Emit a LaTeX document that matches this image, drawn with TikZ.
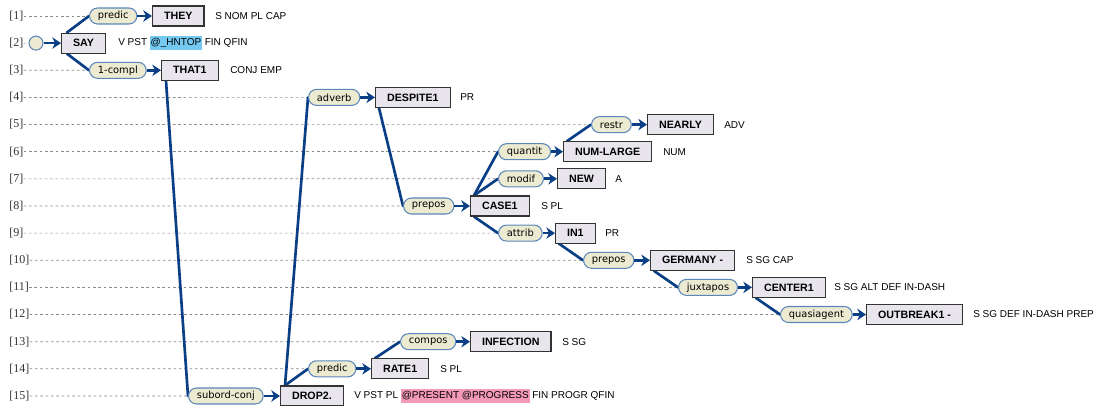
\documentclass[tikz,border=0pt]{standalone}
\usepackage{fontspec}
\setmainfont{Liberation Sans}
\newfontfamily\lblfont{DejaVu Sans}
\newfontfamily\rowfont{Liberation Serif}
\usetikzlibrary{arrows.meta,calc,backgrounds}

\definecolor{edgeblue}{HTML}{0A3F85}
\definecolor{pillfill}{HTML}{ECEAD0}
\definecolor{pillline}{HTML}{5B87BA}
\definecolor{boxfill}{HTML}{E8E5EC}
\definecolor{boxline}{HTML}{333333}
\definecolor{hlblue}{HTML}{74C9F1}
\definecolor{hlpink}{HTML}{F49AB8}

\newcommand\hlmark[2]{{\setlength{\fboxsep}{0.6pt}\colorbox{#1}{\strut #2}}}

\tikzset{
  rowlab/.style={anchor=west, inner sep=0pt, text=black!80,
    font=\rowfont\fontsize{9}{10}\selectfont},
  dep/.style={draw=pillline, fill=pillfill, rounded corners=6pt,
    minimum height=12pt, inner xsep=6.3pt, inner ysep=0pt, anchor=west,
    line width=0.8pt, font=\lblfont\fontsize{7.4}{8}\selectfont},
  word/.style={draw=boxline, fill=boxfill, minimum height=15pt,
    inner xsep=8.6pt, inner ysep=0pt, anchor=west, line width=0.9pt,
    font=\bfseries\fontsize{8}{9}\selectfont},
  tags/.style={anchor=west, inner sep=0pt, font=\fontsize{7.5}{9}\selectfont},
  link/.style={draw=edgeblue, line width=2pt, line cap=round},
  pointer/.style={draw=edgeblue, line width=2pt,
    -{Stealth[length=6.5pt,width=8.5pt,inset=2pt]}},
  guide/.style={draw=black!45, dash pattern=on 2pt off 2pt, line width=0.5pt},
}

\begin{document}
\begin{tikzpicture}[x=0.75pt,y=-0.75pt]
\useasboundingbox (0,0) rectangle (1099,405);

% row numbers
\foreach \i in {1,...,15}{
  \node[rowlab] (row\i) at (9,{16+(\i-1)*27.14}) {[\i]};
}

% dependency labels
\node[dep] (l1)  at (89,16)     {predic};
\node[dep] (l3)  at (89,70.3)   {1-compl};
\node[dep] (l4)  at (308,97.4)  {adverb};
\node[dep] (l5)  at (591,124.6) {restr};
\node[dep] (l6)  at (498,151.7) {quantit};
\node[dep] (l7)  at (498,178.8) {modif};
\node[dep] (l8)  at (403,206)   {prepos};
\node[dep] (l9)  at (498,233.1) {attrib};
\node[dep] (l10) at (583,260.3) {prepos};
\node[dep] (l11) at (678,287.4) {juxtapos};
\node[dep] (l12) at (780,314.5) {quasiagent};
\node[dep] (l13) at (400,341.7) {compos};
\node[dep] (l14) at (308,368.8) {predic};
\node[dep] (l15) at (188,396)   {subord-conj};
\node[circle, draw=pillline, fill=pillfill, line width=0.8pt,
      minimum size=10.5pt, inner sep=0pt] (root) at (36,43.1) {};

% word boxes
\node[word] (THEY)    at (152,16)     {THEY};
\node[word] (SAY)     at (61,43.1)    {SAY};
\node[word] (THAT)    at (161,70.3)   {THAT1};
\node[word] (DESPITE) at (375,97.4)   {DESPITE1};
\node[word] (NEARLY)  at (647,124.6)  {NEARLY};
\node[word] (NUM)     at (563,151.7)  {NUM-LARGE};
\node[word] (NEW)     at (557,178.8)  {NEW};
\node[word] (CASE)    at (470,206)    {CASE1};
\node[word] (IN)      at (555,233.1)  {IN1};
\node[word] (GER)     at (650,260.3)  {GERMANY -};
\node[word] (CENTER)  at (752,287.4)  {CENTER1};
\node[word] (OUTB)    at (866,314.5)  {OUTBREAK1 -};
\node[word] (INFEC)   at (470,341.7)  {INFECTION};
\node[word] (RATE)    at (371,368.8)  {RATE1};
\node[word] (DROP)    at (280,396)    {DROP2.};

% morphological tags
\node[tags] (t1)  at (215,16)    {S NOM PL CAP};
\node[tags] (t2)  at (118,43.1)  {V PST \hlmark{hlblue}{@\_HNTOP} FIN QFIN};
\node[tags] (t3)  at (230,70.3)  {CONJ EMP};
\node[tags] (t4)  at (460,97.4)  {PR};
\node[tags] (t5)  at (724,124.6) {ADV};
\node[tags] (t6)  at (663,151.7) {NUM};
\node[tags] (t7)  at (615,178.8) {A};
\node[tags] (t8)  at (541,206)   {S PL};
\node[tags] (t9)  at (605,233.1) {PR};
\node[tags] (t10) at (746,260.3) {S SG CAP};
\node[tags] (t11) at (834,287.4) {S SG ALT DEF IN-DASH};
\node[tags] (t12) at (973,314.5) {S SG DEF IN-DASH PREP};
\node[tags] (t13) at (562,341.7) {S SG};
\node[tags] (t14) at (440,368.8) {S PL};
\node[tags] (t15) at (354,396)   {V PST PL \hlmark{hlpink}{@PRESENT @PROGRESS} FIN PROGR QFIN};

\begin{scope}[on background layer]
  % guide lines from the row numbers
  \draw[guide] (row1.east)  -- (l1.west);
  \draw[guide] (row2.east)  -- (root.west);
  \draw[guide] (row3.east)  -- (l3.west);
  \draw[guide] (row4.east)  -- (l4.west);
  \draw[guide] (row5.east)  -- (l5.west);
  \draw[guide] (row6.east)  -- (l6.west);
  \draw[guide] (row7.east)  -- (l7.west);
  \draw[guide] (row8.east)  -- (l8.west);
  \draw[guide] (row9.east)  -- (l9.west);
  \draw[guide] (row10.east) -- (l10.west);
  \draw[guide] (row11.east) -- (l11.west);
  \draw[guide] (row12.east) -- (l12.west);
  \draw[guide] (row13.east) -- (l13.west);
  \draw[guide] (row14.east) -- (l14.west);
  \draw[guide] (row15.east) -- (l15.west);

  % head-to-label branches
  \draw[link] ($(SAY.north west)+(6,0)$)     -- (l1.west);
  \draw[link] ($(SAY.south west)+(6,0)$)     -- (l3.west);
  \draw[link] ($(THAT.south west)+(5,0)$)    -- (l15.west);
  \draw[link] ($(DROP.north west)+(5,0)$)    -- (l4.west);
  \draw[link] ($(DROP.north west)+(5,0)$)    -- (l14.west);
  \draw[link] ($(DESPITE.south west)+(4,0)$) -- (l8.west);
  \draw[link] ($(CASE.north west)+(4,0)$)    -- (l6.west);
  \draw[link] ($(CASE.north west)+(4,0)$)    -- (l7.west);
  \draw[link] ($(CASE.south west)+(4,0)$)    -- (l9.west);
  \draw[link] ($(NUM.north west)+(4,0)$)     -- (l5.west);
  \draw[link] ($(IN.south west)+(4,0)$)      -- (l10.west);
  \draw[link] ($(GER.south west)+(4,0)$)     -- (l11.west);
  \draw[link] ($(CENTER.south west)+(4,0)$)  -- (l12.west);
  \draw[link] ($(RATE.north west)+(4,0)$)    -- (l13.west);
\end{scope}

% label-to-dependent arrows
\draw[pointer] (root.east) -- (SAY.west);
\draw[pointer] (l1.east)  -- (THEY.west);
\draw[pointer] (l3.east)  -- (THAT.west);
\draw[pointer] (l4.east)  -- (DESPITE.west);
\draw[pointer] (l5.east)  -- (NEARLY.west);
\draw[pointer] (l6.east)  -- (NUM.west);
\draw[pointer] (l7.east)  -- (NEW.west);
\draw[pointer] (l8.east)  -- (CASE.west);
\draw[pointer] (l9.east)  -- (IN.west);
\draw[pointer] (l10.east) -- (GER.west);
\draw[pointer] (l11.east) -- (CENTER.west);
\draw[pointer] (l12.east) -- (OUTB.west);
\draw[pointer] (l13.east) -- (INFEC.west);
\draw[pointer] (l14.east) -- (RATE.west);
\draw[pointer] (l15.east) -- (DROP.west);
\end{tikzpicture}
\end{document}
